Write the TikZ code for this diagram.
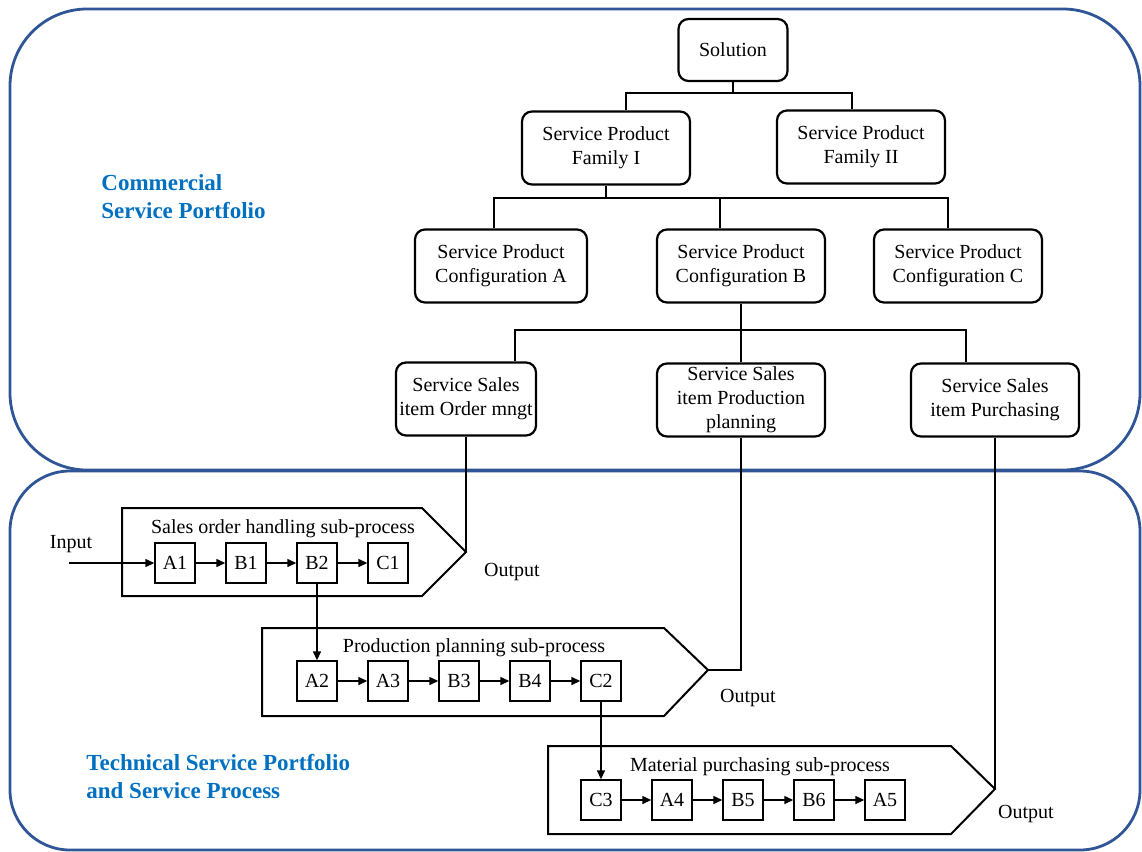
\documentclass[tikz,border=0pt]{standalone}
\usepackage{fontspec}
\setmainfont{Liberation Serif}
\usetikzlibrary{arrows.meta,calc}
\definecolor{frameblue}{HTML}{2F5597}
\definecolor{labelblue}{HTML}{0070C0}

\begin{document}
\begin{tikzpicture}[x=0.5pt, y=-0.5pt, node distance=35.5pt,
  font=\fontsize{10}{12}\selectfont,
  tree node/.style={draw, rounded corners=5pt, line width=1.1pt, align=center,
    minimum width=84pt, minimum height=36.5pt, inner sep=1pt},
  step box/.style={draw, line width=0.7pt, minimum size=20pt, inner sep=0pt},
  link/.style={line width=1pt},
  proc/.style={line width=1pt, line join=miter},
  flow/.style={-{Triangle[length=4.5pt,width=4pt]}, line width=0.7pt},
  frame/.style={draw=frameblue, line width=1.4pt},
  region label/.style={text=labelblue, align=left, anchor=west, inner sep=0pt,
    font=\bfseries\fontsize{11.5}{14}\selectfont}]
\useasboundingbox (0,0) rectangle (1142,852);

% portfolio frames
\draw[frame, rounded corners=38.5pt] (10,9) rectangle (1140,470);
\draw[frame, rounded corners=30pt] (10,471) rectangle (1140,850);

\node[region label] (com) at (101,197) {Commercial\\Service Portfolio};
\node[region label] (tec) at (86,777) {Technical Service Portfolio\\and Service Process};

% commercial tree
\node[tree node, minimum width=54.5pt, minimum height=31pt] (sol) at (733,50) {Solution};
\node[tree node] (fam1) at (606,148) {Service Product\\Family I};
\node[tree node] (fam2) at (861,147) {Service Product\\Family II};
\node[tree node, minimum width=86pt] (cfgA) at (501,266) {Service Product\\Configuration A};
\node[tree node] (cfgB) at (741,266) {Service Product\\Configuration B};
\node[tree node] (cfgC) at (958,266) {Service Product\\Configuration C};
\node[tree node, minimum width=70pt] (itemO) at (466,399) {Service Sales\\item Order mngt};
\node[tree node] (itemP) at (741,400) {Service Sales\\item Production\\planning};
\node[tree node] (itemU) at (995,400) {Service Sales\\item Purchasing};

\coordinate (j0) at (733,93);
\coordinate (j1) at (606,198);
\coordinate (j2) at (741,330);

\draw[link] (sol.south) -- (j0);
\draw[link] ($(fam1.north)+(20,0)$) |- (j0) -| ($(fam2.north)+(-9,0)$);
\draw[link] (fam1.south) -- (j1);
\draw[link] ($(cfgA.north)+(-7,0)$) |- (j1) -| ($(cfgC.north)+(-10,0)$);
\draw[link] ($(cfgB.north)+(-21,0)$) |- (j1);
\draw[link] (cfgB.south) -- (j2);
\draw[link] ($(itemO.north)+(49,0)$) |- (j2) -| ($(itemU.north)+(-29,0)$);
\draw[link] (itemP.north) -- (j2);

% sub-processes
\coordinate (out1) at (466,552);
\coordinate (out2) at (708,670);
\coordinate (out3) at (995,789);

\draw[proc] (122,508) -- (422,508) -- (out1) -- (422,596) -- (122,596) -- cycle;
\draw[proc] (262,628) -- (664,628) -- (out2) -- (664,716) -- (262,716) -- cycle;
\draw[proc] (548,746) -- (951,746) -- (out3) -- (951,834) -- (548,834) -- cycle;

\node (t1) at (283,529) {Sales order handling sub-process};
\node (t2) at (474,648) {Production planning sub-process};
\node (t3) at (760,767) {Material purchasing sub-process};

\node[step box] (A1) at (175,563) {A1};
\node[step box, right of=A1] (B1) {B1};
\node[step box, right of=B1] (B2) {B2};
\node[step box, right of=B2] (C1) {C1};

\node[step box] (A2) at (317,681) {A2};
\node[step box, right of=A2] (A3) {A3};
\node[step box, right of=A3] (B3) {B3};
\node[step box, right of=B3] (B4) {B4};
\node[step box, right of=B4] (C2) {C2};

\node[step box] (C3) at (601,800) {C3};
\node[step box, right of=C3] (A4) {A4};
\node[step box, right of=A4] (B5) {B5};
\node[step box, right of=B5] (B6) {B6};
\node[step box, right of=B6] (A5) {A5};

\node (inp) at (71,544) {Input};
\coordinate (in) at (69,563);
\draw[flow] (in) -- (A1);

\draw[flow] (A1) -- (B1);
\draw[flow] (B1) -- (B2);
\draw[flow] (B2) -- (C1);
\draw[flow] (B2) -- (A2);
\draw[flow] (A2) -- (A3);
\draw[flow] (A3) -- (B3);
\draw[flow] (B3) -- (B4);
\draw[flow] (B4) -- (C2);
\draw[flow] (C2) -- (C3);
\draw[flow] (C3) -- (A4);
\draw[flow] (A4) -- (B5);
\draw[flow] (B5) -- (B6);
\draw[flow] (B6) -- (A5);

% outputs to sales items
\draw[link] (itemO.south) -- (out1);
\draw[link] (itemP.south) |- (out2);
\draw[link] (itemU.south) -- (out3);

\node (o1) at (512,572) {Output};
\node (o2) at (748,698) {Output};
\node (o3) at (1026,814) {Output};
\end{tikzpicture}
\end{document}
